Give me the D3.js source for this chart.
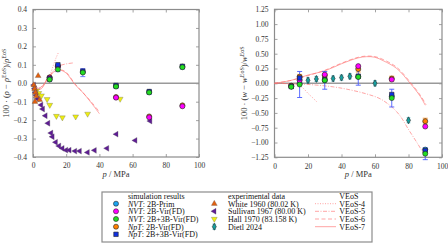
<!DOCTYPE html>
<html>
<head>
<meta charset="utf-8" />
<script src="https://cdn.jsdelivr.net/npm/d3@7"></script>
<style>
  body { margin: 0; background: #fff; }
  text { font-family: "Liberation Serif", "DejaVu Serif", serif; }
</style>
</head>
<body>
<svg id="chart" width="448" height="252"></svg>
<script>
// ---- data ----
const simP = [10, 15, 30, 50, 70, 90];

// density deviation, 100*(rho - rhoEoS)/rhoEoS
const rhoNvtPrim = [0.022, 0.095, 0.062, -0.015, -0.047, 0.09];
const rhoNvt2B = [0.03, 0.09, null, -0.078, -0.185, -0.125];
const rhoNvt3B = [0.02, 0.075, 0.058, -0.018, -0.05, 0.087];
const rhoNpt2B = [0.032, 0.092, null, -0.075, -0.18, -0.12];
const rhoNpt3B = [0.025, 0.1, 0.065, -0.012, -0.045, 0.092];
const rhoErr3B = [0.01, 0.012, 0.022, 0.01, 0.01, 0.01];

const whiteP = [0.5, 1.0, 1.5, 2.0, 3.1, 1.2, 4.0];
const whiteRho = [-0.01, -0.03, -0.05, -0.07, 0.04, -0.1, -0.09];
const sullivanP = [0.5, 1, 1.5, 2, 2.7, 4.9, 5.9, 7.5, 9.1, 10.9, 11.7, 13.7, 15.7, 17.7, 19.9, 21.9, 25.3, 28.1, 32.9, 37.1, 44.6, 50.2, 61.6, 70.6];
const sullivanRho = [-0.01, -0.03, -0.05, -0.065, -0.085, -0.118, -0.14, -0.176, -0.217, -0.27, -0.29, -0.32, -0.34, -0.353, -0.363, -0.363, -0.368, -0.368, -0.375, -0.364, -0.353, -0.276, -0.31, -0.205];
const hallP = [2.1, 3.5, 5.1, 8.5, 10.1, 14.1, 17.7, 25.7, 32.9, 52.5];
const hallRho = [-0.04, -0.054, -0.067, -0.087, -0.118, -0.178, -0.186, -0.181, -0.166, -0.085];

// speed of sound deviation, 100*(w - wEoS)/wEoS
const wNvtPrim = [-0.05, 0.0, 0.06, 0.11, -0.22, -1.12];
const wNvt2B = [-0.05, 0.05, 0.147, 0.29, 0.063, -0.73];
const wNvt3B = [-0.06, -0.02, 0.05, 0.108, -0.25, -1.19];
const wNpt2B = [-0.04, 0.11, 0.13, 0.24, 0.08, -0.64];
const wNpt3B = [-0.05, 0.09, 0.06, 0.12, -0.19, -1.14];
const wErr3B = [0.03, 0.22, 0.15, 0.14, 0.15, 0.1];
const wErr2B = [0.02, 0.04, 0.03, 0.05, 0.04, 0.05];

const dietlP = [20, 25, 30, 35, 40, 45, 60, 80];
const dietlW = [0.05, 0.074, 0.06, 0.08, 0.096, 0.118, 0.0, -0.625];

// VEoS curves
const veos4LP = [0, 2, 4, 7, 10, 12, 14, 15.5];
const veos4LV = [0, -0.02, -0.025, 0.0, 0.04, 0.09, 0.14, 0.17];
const veos5LP = [0, 2, 4, 7, 10, 13, 16, 20, 24];
const veos5LV = [0, -0.02, -0.025, 0.0, 0.04, 0.075, 0.095, 0.105, 0.11];
const veos6LP = [0, 2.5, 5, 9.5, 14.5, 17, 20, 25, 30, 35, 40];
const veos6LV = [0, -0.03, -0.025, 0.035, 0.07, 0.072, 0.06, 0.0, -0.05, -0.1, -0.155];
const veos7LP = [0, 2.5, 5, 9.5, 14.5, 17, 20, 25.5, 30, 35, 40];
const veos7LV = [0, -0.033, -0.03, 0.036, 0.072, 0.07, 0.055, -0.009, -0.05, -0.105, -0.165];

const veos4RP = [0, 10, 14, 17, 20, 23, 25.5];
const veos4RV = [0, -0.01, -0.03, -0.08, -0.17, -0.25, -0.32];
const veos5RP = [0, 20, 35, 45, 55, 63, 70, 75, 80, 85, 90];
const veos5RV = [0, -0.02, -0.06, -0.11, -0.18, -0.26, -0.4, -0.55, -0.78, -1.0, -1.23];
const veos6RP = [0, 10, 20, 30, 40, 50, 55, 60, 65, 73, 81, 87, 90.5];
const veos6RV = [0, 0.05, 0.13, 0.22, 0.34, 0.44, 0.46, 0.45, 0.4, 0.27, 0.02, -0.2, -0.36];
const veos7RP = [0, 10, 20, 30, 40, 50, 55, 60, 65, 73, 81, 87, 90];
const veos7RV = [0, 0.05, 0.14, 0.21, 0.33, 0.43, 0.45, 0.44, 0.38, 0.25, 0.0, -0.22, -0.37];

const xTicks = [0, 20, 40, 60, 80, 100];
const rhoTicks = [-0.4, -0.3, -0.2, -0.1, 0.0, 0.1, 0.2, 0.3, 0.4];
const wTicks = [-1.25, -1.0, -0.75, -0.5, -0.25, 0.0, 0.25, 0.5, 0.75, 1.0, 1.25];

// ---- styles ----
const frameColor = "#8c8c8c";
const curveColor = "#ff7070";
const sims = [
  { label: ["NVT", ": 2B-Prim"], fill: "#1aa3f0", shape: "circle" },
  { label: ["NVT", ": 2B-Vir(FD)"], fill: "#ff00ff", shape: "circle" },
  { label: ["NVT", ": 2B+3B-Vir(FD)"], fill: "#22dd22", shape: "circle" },
  { label: ["NpT", ": 2B-Vir(FD)"], fill: "#ff8000", shape: "circle" },
  { label: ["NpT", ": 2B+3B-Vir(FD)"], fill: "#1030e0", shape: "square" }
];
const dashes = ["1,1.5", "4,1.5,1,1.5", "4,2.5", null];

const svg = d3.select("#chart");
const sym = {
  circle: d3.symbol().type(d3.symbolCircle).size(20),
  square: d3.symbol().type(d3.symbolSquare).size(20),
  tri: d3.symbol().type(d3.symbolTriangle).size(15),
  diamond: d3.symbol().type(d3.symbolDiamond).size(14)
};

function marker(g, x, y, shape, fill, rot) {
  g.append("path")
    .attr("d", sym[shape]())
    .attr("transform", `translate(${x},${y}) rotate(${rot || 0})`)
    .attr("fill", fill)
    .attr("stroke", shape === "tri" ? "#555" : "#222")
    .attr("stroke-width", shape === "tri" ? 0.3 : 0.6);
}

function panel(x0, x1, y0, y1, yDomain, yTicks, fmt, ySym, yLabX) {
  const x = d3.scaleLinear().domain([0, 100]).range([x0, x1]);
  const y = d3.scaleLinear().domain(yDomain).range([y1, y0]);
  const g = svg.append("g");

  // inward ticks on all four sides
  const axes = [
    [d3.axisBottom(x).tickValues(xTicks).tickSizeInner(-3).tickSizeOuter(0).tickFormat(d3.format("d")).tickPadding(6), `translate(0,${y1})`],
    [d3.axisTop(x).tickValues(xTicks).tickSizeInner(-3).tickSizeOuter(0).tickFormat(""), `translate(0,${y0})`],
    [d3.axisLeft(y).tickValues(yTicks).tickSizeInner(-3).tickSizeOuter(0).tickFormat(fmt).tickPadding(6), `translate(${x0},0)`],
    [d3.axisRight(y).tickValues(yTicks).tickSizeInner(-3).tickSizeOuter(0).tickFormat(""), `translate(${x1},0)`]
  ];
  axes.forEach(([ax, tr]) => {
    const a = g.append("g").attr("transform", tr).call(ax);
    a.select(".domain").remove();
    a.selectAll("line").attr("stroke", frameColor).attr("stroke-width", 0.8);
    a.selectAll("text").attr("fill", "#333").style("font-size", "7.5px")
      .style("font-family", "'Liberation Serif', serif");
  });

  // zero line
  g.append("line")
    .attr("x1", x0).attr("x2", x1).attr("y1", y(0)).attr("y2", y(0))
    .attr("stroke", "#9a9a9a").attr("stroke-width", 1.5);

  // frame
  g.append("rect")
    .attr("x", x0).attr("y", y0).attr("width", x1 - x0).attr("height", y1 - y0)
    .attr("fill", "none").attr("stroke", frameColor).attr("stroke-width", 1.2);

  // x label
  const xl = g.append("text")
    .attr("x", (x0 + x1) / 2).attr("y", y1 + 20)
    .attr("text-anchor", "middle").style("font-size", "8.5px").attr("fill", "#333");
  xl.append("tspan").style("font-style", "italic").text("p");
  xl.append("tspan").text(" / MPa");

  // y label
  const yl = g.append("text")
    .attr("transform", `translate(${yLabX},${(y0 + y1) / 2}) rotate(-90)`)
    .attr("text-anchor", "middle").style("font-size", "8.5px").attr("fill", "#333");
  yl.append("tspan").text("100 · (");
  yl.append("tspan").style("font-style", "italic").text(ySym);
  yl.append("tspan").text(" − ");
  yl.append("tspan").style("font-style", "italic").text(ySym);
  yl.append("tspan").attr("dy", -3).style("font-size", "6px").text("EoS");
  yl.append("tspan").attr("dy", 3).text(")/");
  yl.append("tspan").style("font-style", "italic").text(ySym);
  yl.append("tspan").attr("dy", -3).style("font-size", "6px").text("EoS");

  return { g, x, y };
}

function curves(pn, list) {
  const line = d3.line().curve(d3.curveCatmullRom)
    .x(d => pn.x(d[0])).y(d => pn.y(d[1]));
  list.forEach(([ps, vs], i) => {
    pn.g.append("path")
      .datum(ps.map((p, k) => [p, vs[k]]))
      .attr("d", line)
      .attr("fill", "none")
      .attr("stroke", curveColor)
      .attr("stroke-opacity", 0.7)
      .attr("stroke-width", 0.9)
      .attr("stroke-dasharray", dashes[i]);
  });
}

function errBars(pn, vals, errs, color) {
  simP.forEach((p, i) => {
    if (vals[i] == null) return;
    const xx = pn.x(p), ya = pn.y(vals[i] - errs[i]), yb = pn.y(vals[i] + errs[i]);
    pn.g.append("line").attr("x1", xx).attr("x2", xx).attr("y1", ya).attr("y2", yb)
      .attr("stroke", color).attr("stroke-width", 0.9);
    [ya, yb].forEach(yy => pn.g.append("line")
      .attr("x1", xx - 2.5).attr("x2", xx + 2.5).attr("y1", yy).attr("y2", yy)
      .attr("stroke", color).attr("stroke-width", 0.9));
  });
}

// series given as [values, index into sims], drawn in this order
function simMarkers(pn, series) {
  series.forEach(([vals, s]) => {
    simP.forEach((p, i) => {
      if (vals[i] == null) return;
      marker(pn.g, pn.x(p), pn.y(vals[i]), sims[s].shape, sims[s].fill);
    });
  });
}

// ---- left panel: density ----
const L = panel(33, 199, 9.5, 157, [-0.4, 0.4], rhoTicks, d3.format(".1f"), "ρ", 9);
curves(L, [[veos4LP, veos4LV], [veos5LP, veos5LV], [veos6LP, veos6LV], [veos7LP, veos7LV]]);
hallP.forEach((p, i) => marker(L.g, L.x(p), L.y(hallRho[i]), "tri", "#eeee10", 180));
sullivanP.forEach((p, i) => marker(L.g, L.x(p), L.y(sullivanRho[i]), "tri", "#5e1c94", -90));
whiteP.forEach((p, i) => marker(L.g, L.x(p), L.y(whiteRho[i]), "tri", "#e06010", 0));
errBars(L, rhoNvt3B, rhoErr3B, "#6070ff");
simMarkers(L, [[rhoNvtPrim, 0], [rhoNpt2B, 3], [rhoNvt2B, 1], [rhoNpt3B, 4], [rhoNvt3B, 2]]);

// ---- right panel: speed of sound ----
const R = panel(274.5, 442, 9.3, 157.3, [-1.25, 1.25], wTicks, d3.format(".2f"), "w", 247);
curves(R, [[veos4RP, veos4RV], [veos5RP, veos5RV], [veos6RP, veos6RV], [veos7RP, veos7RV]]);
dietlP.forEach((p, i) => {
  const xx = R.x(p), yy = R.y(dietlW[i]);
  [-2.5, 2.5].forEach(d => R.g.append("line")
    .attr("x1", xx - 1.8).attr("x2", xx + 1.8).attr("y1", yy + d).attr("y2", yy + d)
    .attr("stroke", "#20b0c0").attr("stroke-width", 0.8));
  marker(R.g, xx, yy, "diamond", "#15a0a0");
});
errBars(R, wNpt2B, wErr2B, "#ff9a30");
errBars(R, wNvt3B, wErr3B, "#4a5cff");
simMarkers(R, [[wNvtPrim, 0], [wNpt2B, 3], [wNvt2B, 1], [wNpt3B, 4], [wNvt3B, 2]]);

// ---- legend ----
const lg = svg.append("g");
lg.append("rect").attr("x", 102).attr("y", 192).attr("width", 270).attr("height", 50)
  .attr("fill", "#fff").attr("stroke", frameColor).attr("stroke-width", 1.2);
const rowY = [195.7, 203.7, 211.3, 219, 226.7, 234.3];
function legText(x, y, parts) {
  const t = lg.append("text").attr("x", x).attr("y", y + 2.8).style("font-size", "8px").attr("fill", "#111");
  parts.forEach(([s, it]) => t.append("tspan").style("font-style", it ? "italic" : "normal").text(s));
}
legText(128, rowY[0], [["simulation results"]]);
sims.forEach((s, i) => {
  marker(lg, 116, rowY[i + 1], s.shape, s.fill);
  legText(128, rowY[i + 1], [[s.label[0], true], [s.label[1]]]);
});
legText(228, rowY[0], [["experimental data"]]);
const exps = [
  ["White 1960 (80.02 K)", "tri", "#e06010", 0],
  ["Sullivan 1967 (80.00 K)", "tri", "#5e1c94", -90],
  ["Hall 1970 (83.158 K)", "tri", "#eeee10", 180],
  ["Dietl 2024", "diamond", "#15a0a0", 0]
];
exps.forEach(([name, shape, fill, rot], i) => {
  if (shape === "diamond") {
    [-2.5, 2.5].forEach(d => lg.append("line")
      .attr("x1", 212.5).attr("x2", 216.1).attr("y1", rowY[i + 1] + d).attr("y2", rowY[i + 1] + d)
      .attr("stroke", "#20b0c0").attr("stroke-width", 0.8));
  }
  marker(lg, 214.3, rowY[i + 1], shape, fill, rot);
  legText(228, rowY[i + 1], [[name]]);
});
legText(339.3, rowY[0], [["VEoS"]]);
["VEoS-4", "VEoS-5", "VEoS-6", "VEoS-7"].forEach((name, i) => {
  lg.append("line").attr("x1", 315).attr("x2", 336).attr("y1", rowY[i + 1]).attr("y2", rowY[i + 1])
    .attr("stroke", curveColor).attr("stroke-opacity", 0.7).attr("stroke-width", 0.9)
    .attr("stroke-dasharray", dashes[i]);
  legText(339.3, rowY[i + 1], [[name]]);
});
</script>
</body>
</html>
